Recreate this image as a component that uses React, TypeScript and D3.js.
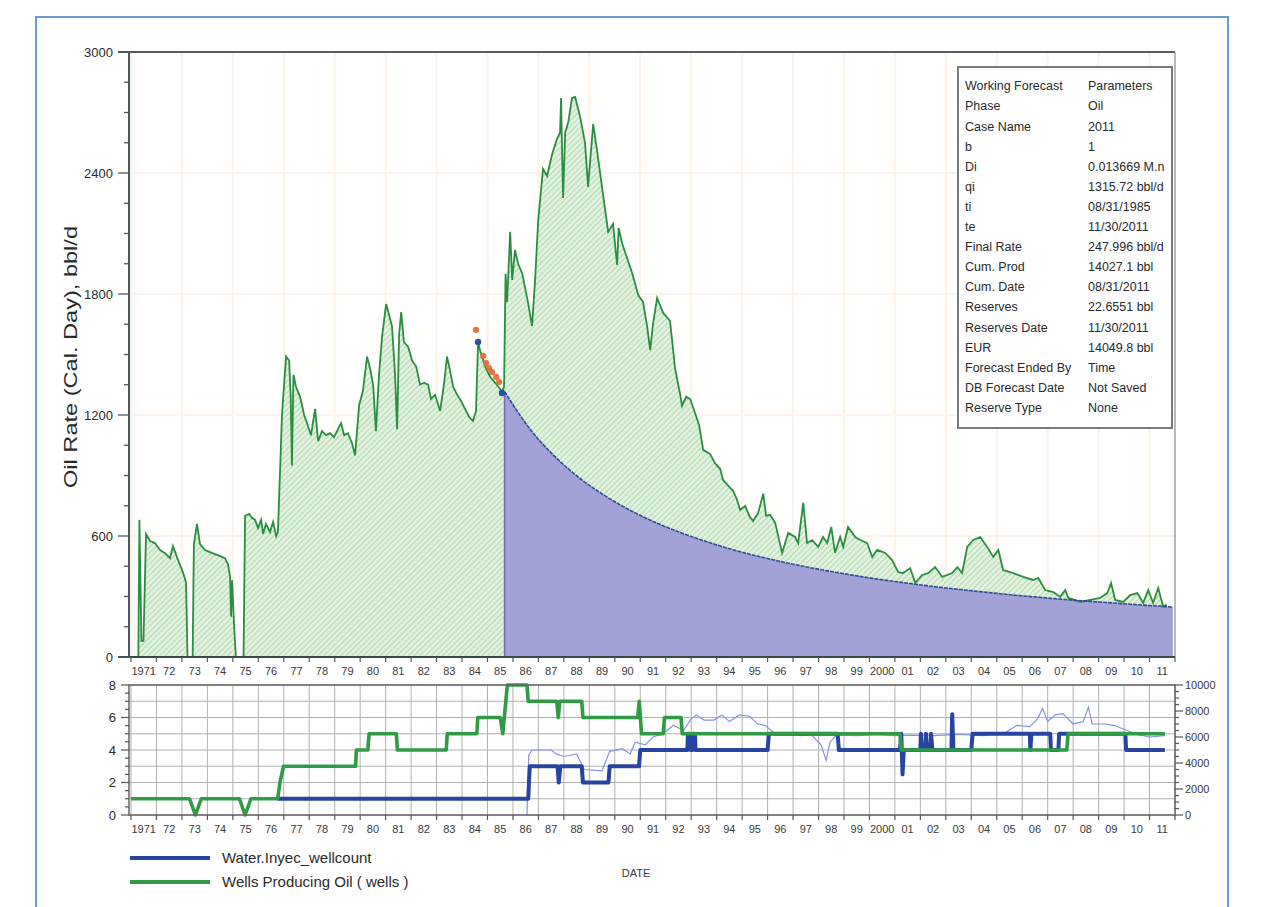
import React from 'react';
import * as d3 from 'd3';

const yearLabels = ['1971','72','73','74','75','76','77','78','79','80','81','82','83','84','85','86','87','88','89','90','91','92','93','94','95','96','97','98','99','2000','01','02','03','04','05','06','07','08','09','10','11'];

const oilYears = [1971.29,1971.33,1971.41,1971.49,1971.59,1971.75,1971.94,1972.14,1972.34,1972.53,1972.65,1972.85,1973.04,1973.16,1973.22,
1973.42,1973.47,1973.59,1973.71,1973.91,1974.10,1974.30,1974.50,1974.69,1974.81,1974.89,1974.93,1974.97,1975.05,1975.12,
1975.42,1975.48,1975.64,1975.75,1975.87,1975.99,1976.11,1976.19,1976.30,1976.46,1976.58,1976.70,1976.77,1976.93,1977.09,1977.21,1977.27,1977.32,1977.38,1977.48,1977.64,1977.80,1977.91,1978.07,1978.23,1978.35,1978.50,1978.66,1978.82,1978.97,1979.13,1979.25,1979.37,1979.52,1979.68,1979.80,1979.96,1980.11,1980.27,1980.39,1980.51,1980.62,1980.74,1980.86,1981.02,1981.13,1981.25,1981.37,1981.45,1981.53,1981.61,1981.72,1981.88,1982.04,1982.20,1982.35,1982.51,1982.67,1982.78,1982.94,1983.14,1983.30,1983.41,1983.53,1983.65,1983.81,1983.96,1984.12,1984.28,1984.43,1984.55,1984.63,1984.71,1984.91,1985.10,1985.30,1985.49,1985.57,1985.65,1985.71,1985.77,1985.89,1985.97,1986.08,1986.20,1986.36,1986.59,1986.75,1986.87,1986.99,1987.18,1987.34,1987.54,1987.73,1987.85,1987.89,1987.93,1987.97,1988.05,1988.17,1988.32,1988.44,1988.64,1988.83,1988.95,1989.15,1989.30,1989.54,1989.74,1989.93,1990.09,1990.15,1990.29,1990.48,1990.68,1990.92,1991.11,1991.27,1991.39,1991.50,1991.66,1991.90,1992.17,1992.37,1992.57,1992.64,1992.80,1992.96,1993.15,1993.31,1993.47,1993.74,1993.94,1994.14,1994.25,1994.45,1994.65,1994.80,1994.92,1995.12,1995.28,1995.43,1995.63,1995.83,1995.94,1996.10,1996.30,1996.57,1996.81,1997.08,1997.20,1997.40,1997.55,1997.75,1997.99,1998.18,1998.34,1998.50,1998.65,1998.85,1998.97,1999.16,1999.44,1999.64,1999.91,2000.11,2000.30,2000.62,2000.89,2001.13,2001.32,2001.60,2001.80,2002.07,2002.31,2002.58,2002.86,2003.25,2003.45,2003.64,2003.84,2004.07,2004.35,2004.62,2004.86,2005.06,2005.25,2005.65,2006.04,2006.43,2006.63,2006.90,2007.22,2007.49,2007.69,2007.81,2008.28,2008.67,2009.06,2009.34,2009.49,2009.65,2009.97,2010.24,2010.52,2010.75,2010.95,2011.14,2011.34,2011.54,2011.67];

const oilRates = [0,680,80,80,610,575,565,530,515,490,550,480,420,370,0,
0,560,660,560,530,520,510,500,490,460,400,200,380,150,0,
0,700,710,690,680,640,680,610,660,620,670,600,620,1200,1490,1470,1300,950,1400,1340,1290,1200,1160,1100,1230,1070,1120,1100,1110,1090,1130,1160,1100,1110,1060,1000,1250,1320,1490,1430,1350,1120,1400,1590,1750,1700,1640,1400,1130,1600,1710,1560,1540,1470,1440,1350,1360,1350,1280,1300,1220,1360,1490,1420,1340,1300,1270,1230,1190,1170,1220,1562,1520,1440,1390,1360,1330,1315,1340,1900,1760,2108,1870,2018,1950,1904,1760,1641,1870,2162,2420,2385,2494,2569,2600,2772,2500,2276,2600,2650,2772,2777,2678,2549,2331,2643,2514,2291,2108,2147,1944,2127,2050,1979,1904,1795,1760,1640,1522,1651,1780,1706,1666,1428,1300,1245,1290,1279,1210,1150,1027,1007,960,932,878,850,823,780,729,749,700,674,714,810,700,705,664,516,615,595,565,764,565,580,546,595,565,645,516,595,546,645,595,580,565,496,531,516,481,421,416,441,367,407,416,446,397,416,446,416,546,580,595,546,496,531,431,416,397,382,392,332,322,298,332,293,273,283,293,317,367,283,273,307,317,268,332,268,342,248,260];

const forecastYears = [1985.67,1986.67,1987.67,1988.67,1989.67,1990.67,1991.67,1992.67,1993.67,1994.67,1995.67,1996.67,1997.67,1998.67,1999.67,2000.67,2001.67,2002.67,2003.67,2004.67,2005.67,2006.67,2007.67,2008.67,2009.67,2010.67,2011.92];
const forecastRates = [1316,1130,991,882,795,723,663,613,569,531,498,469,443,420,399,380,363,347,333,320,307,296,285,276,267,258,248];

const fitYears = [1984.55,1984.83,1984.94,1985.06,1985.18,1985.34,1985.46];
const fitRates = [1622,1493,1458,1433,1413,1389,1364];
const fitEndYears = [1984.63,1985.57];
const fitEndRates = [1562,1309];

const wellsYears = [1971.0,1973.3,1973.53,1973.76,1975.26,1975.48,1975.71,1976.76,1976.85,1976.99,1979.82,1979.85,1980.3,1980.35,1981.42,1981.46,1983.38,1983.42,1984.58,1984.62,1985.5,1985.6,1985.72,1985.78,1986.55,1986.6,1987.72,1987.78,1987.84,1988.7,1988.75,1990.9,1990.96,1991.05,1991.9,1991.95,1992.6,1992.65,2001.2,2001.25,2007.75,2007.8,2011.6];
const wellsCount = [1,1,0,1,1,0,1,1,2,3,3,4,4,5,5,4,4,5,5,6,6,5,7,8,8,7,7,6,7,7,6,6,7,5,5,6,6,5,5,4,4,5,5];

const injYears = [1976.76,1986.6,1986.66,1987.75,1987.8,1987.86,1988.7,1988.75,1989.75,1989.8,1990.95,1991.0,1992.85,1992.87,1992.95,1992.97,1993.05,1993.07,1993.15,1993.17,1996.0,1996.05,1998.75,1998.8,2001.2,2001.25,2001.3,2001.35,2002.0,2002.02,2002.07,2002.2,2002.22,2002.27,2002.4,2002.42,2002.47,2003.22,2003.25,2003.3,2004.0,2004.05,2006.3,2006.32,2006.36,2007.1,2007.13,2007.42,2007.45,2010.05,2010.08,2011.6];
const injCount = [1,1,3,3,2,3,3,2,2,3,3,4,4,5,5,4,4,5,5,4,4,5,5,4,4,5,2.5,4,4,5,4,4,5,4,4,5,4,4,6.2,4,4,5,5,4,5,5,4,4,5,5,4,4];

const injRateYears = [1986.55,1986.62,1986.75,1987.5,1987.7,1988.0,1988.5,1988.8,1989.5,1989.8,1990.3,1990.6,1990.8,1991.2,1991.5,1991.9,1992.3,1992.7,1993.0,1993.2,1993.5,1993.9,1994.2,1994.5,1994.9,1995.3,1995.6,1995.9,1996.3,1996.8,1997.3,1997.7,1998.1,1998.3,1998.45,1998.7,1999.5,2000.3,2001.0,2001.6,2002.5,2003.5,2004.5,2005.3,2005.8,2006.3,2006.6,2006.8,2007.0,2007.3,2007.6,2008.0,2008.4,2008.6,2008.75,2009.2,2009.6,2010.0,2010.5,2011.0,2011.6];
const injRate = [0,4600,5000,5000,4700,4500,4700,3500,3400,4900,5100,4700,5600,5400,6000,6250,6900,6500,7400,7700,7300,7300,7700,7200,7700,7600,7000,6900,6250,6300,6100,6200,5400,4200,5600,6150,6100,6200,6100,6150,6100,6200,6100,6300,6900,6800,7400,8200,7200,7700,7800,7000,7200,8300,7000,7000,6900,6600,6200,6000,6100];

const infoLabels = ['Working Forecast','Phase','Case Name','b','Di','qi','ti','te','Final Rate','Cum. Prod','Cum. Date','Reserves','Reserves Date','EUR','Forecast Ended By','DB Forecast Date','Reserve Type'];
const infoValues = ['Parameters','Oil','2011','1','0.013669 M.n','1315.72 bbl/d','08/31/1985','11/30/2011','247.996 bbl/d','14027.1 bbl','08/31/2011','22.6551 bbl','11/30/2011','14049.8 bbl','Time','Not Saved','None'];

const mainTicks = [0, 600, 1200, 1800, 2400, 3000];
const subTicks = [0, 2, 4, 6, 8];
const rightTicks = [0, 2000, 4000, 6000, 8000, 10000];

const FONT = "'Liberation Sans Narrow', 'Liberation Sans', Arial, sans-serif";

export default function App() {
  const L = 129, R = 1175;
  const mT = 52, mB = 657;
  const sT = 685, sB = 815;
  const x = d3.scaleLinear().domain([1971, 2012]).range([131, R]);
  const yM = d3.scaleLinear().domain([0, 3000]).range([mB, mT]);
  const yS = d3.scaleLinear().domain([0, 8]).range([sB, sT]);
  const yR = d3.scaleLinear().domain([0, 10000]).range([sB, sT]);

  const oil = oilYears.map((t, i) => [t, oilRates[i]] as [number, number]);
  const fc = forecastYears.map((t, i) => [t, forecastRates[i]] as [number, number]);
  const wells = wellsYears.map((t, i) => [t, wellsCount[i]] as [number, number]);
  const inj = injYears.map((t, i) => [t, injCount[i]] as [number, number]);
  const injR = injRateYears.map((t, i) => [t, injRate[i]] as [number, number]);

  const oilArea = d3.area<[number, number]>().x(d => x(d[0])).y0(mB).y1(d => yM(d[1]));
  const oilLine = d3.line<[number, number]>().x(d => x(d[0])).y(d => yM(d[1]));
  const fcArea = d3.area<[number, number]>().x(d => x(d[0])).y0(mB).y1(d => yM(d[1])).curve(d3.curveMonotoneX);
  const fcLine = d3.line<[number, number]>().x(d => x(d[0])).y(d => yM(d[1])).curve(d3.curveMonotoneX);
  const subLine = d3.line<[number, number]>().x(d => x(d[0])).y(d => yS(d[1]));
  const rLine = d3.line<[number, number]>().x(d => x(d[0])).y(d => yR(d[1]));

  const years = d3.range(1971, 2013);
  const minorMain = d3.range(0, 3001, 150);
  const minorSub = d3.range(0, 8.01, 0.5);
  const minorRight = d3.range(0, 10001, 500);
  const gridSub = d3.range(0, 9, 1);

  return (
    <svg width={1264} height={907} style={{ position: 'absolute', left: 0, top: 0, background: '#fff' }} fontFamily={FONT}>
      <defs>
        <pattern id="hatch" patternUnits="userSpaceOnUse" width={4} height={4} patternTransform="rotate(45)">
          <rect width={4} height={4} fill="#e2f2df" />
          <line x1={0} y1={0} x2={0} y2={4} stroke="#9dd09d" strokeWidth={1.4} />
        </pattern>
      </defs>
      <rect x={36} y={17} width={1192} height={900} fill="none" stroke="#6a9ad8" strokeWidth={2} />

      {/* main plot background grid */}
      <rect x={L} y={mT} width={R - L} height={mB - mT} fill="#fffefc" />
      {years.filter((t, i) => i % 2 === 0).map(t => (
        <line key={'mg' + t} x1={x(t)} x2={x(t)} y1={mT} y2={mB} stroke="#fdf2e8" strokeWidth={2} />
      ))}
      {mainTicks.map(v => (
        <line key={'mh' + v} x1={L} x2={R} y1={yM(v)} y2={yM(v)} stroke="#fdf3ea" strokeWidth={2} />
      ))}

      <path d={oilArea(oil) || ''} fill="url(#hatch)" />
      <path d={fcArea(fc) || ''} fill="#a2a2d6" />
      <line x1={x(forecastYears[0])} x2={x(forecastYears[0])} y1={yM(forecastRates[0])} y2={mB} stroke="#6d6db8" strokeWidth={1.5} />
      <path d={oilLine(oil) || ''} fill="none" stroke="#2a8e40" strokeWidth={1.8} />
      <path d={fcLine(fc) || ''} fill="none" stroke="#2e4a94" strokeWidth={1.6} strokeDasharray="4 1" />
      {fitYears.map((t, i) => (
        <circle key={'f' + i} cx={x(t)} cy={yM(fitRates[i])} r={2.8} fill="#e8763c" stroke="#d9603a" strokeWidth={0.6} />
      ))}
      {fitEndYears.map((t, i) => (
        <circle key={'fe' + i} cx={x(t)} cy={yM(fitEndRates[i])} r={3.2} fill="#2d4f9e" />
      ))}

      {/* main frame */}
      <line x1={118} x2={R} y1={mT} y2={mT} stroke="#5a5a5a" strokeWidth={2} />
      <line x1={R} x2={R} y1={mT} y2={mB} stroke="#8a8a8a" strokeWidth={1.2} />
      <line x1={L} x2={L} y1={mT} y2={mB} stroke="#4a5a60" strokeWidth={2} />
      <line x1={118} x2={R} y1={mB} y2={mB} stroke="#3a4a45" strokeWidth={2} />
      {minorMain.map(v => (
        <line key={'mt' + v} x1={v % 600 === 0 ? 118 : 124} x2={L} y1={yM(v)} y2={yM(v)} stroke="#4a5a60" strokeWidth={1.3} />
      ))}
      {mainTicks.map(v => (
        <text key={'ml' + v} x={113} y={yM(v)} dy="0.35em" textAnchor="end" fontSize={13} fill="#2a2a2a">{v}</text>
      ))}
      {years.map(t => (
        <line key={'mxt' + t} x1={x(t)} x2={x(t)} y1={mB} y2={mB + 5} stroke="#4a5a60" strokeWidth={1.2} />
      ))}
      {yearLabels.map((lab, i) => (
        <text key={'mxl' + i} x={x(1971.5 + i)} y={mB + 14} dy="0.35em" textAnchor="middle" fontSize={11} fill="#3a3a3a">{lab}</text>
      ))}
      <text transform={`translate(77,357) rotate(-90)`} textAnchor="middle" fontSize={19} fill="#2a2a2a" textLength={262} lengthAdjust="spacingAndGlyphs" fontFamily="'Liberation Sans', Arial, sans-serif">Oil Rate (Cal. Day), bbl/d</text>

      {/* info box */}
      <rect x={958} y={67} width={214} height={361} fill="#fff" stroke="#7a7a7a" strokeWidth={2} />
      {infoLabels.map((lab, i) => (
        <g key={'ib' + i}>
          <text x={965} y={86 + i * 20.1} dy="0.35em" fontSize={12.5} fill="#2a2a2a">{lab}</text>
          <text x={1088} y={86 + i * 20.1} dy="0.35em" fontSize={12.5} fill="#2a2a2a">{infoValues[i]}</text>
        </g>
      ))}

      {/* sub panel */}
      <rect x={L} y={sT} width={R - L} height={sB - sT} fill="#fff" />
      {years.map(t => (
        <line key={'sg' + t} x1={x(t)} x2={x(t)} y1={sT} y2={sB} stroke="#b0b0b0" strokeWidth={1} />
      ))}
      {gridSub.map(v => (
        <line key={'sh' + v} x1={L} x2={R} y1={yS(v)} y2={yS(v)} stroke="#b0b0b0" strokeWidth={1} />
      ))}
      <path d={rLine(injR) || ''} fill="none" stroke="#8494e2" strokeWidth={1.2} />
      <path d={subLine(inj) || ''} fill="none" stroke="#2644a0" strokeWidth={4} strokeLinejoin="round" />
      <path d={subLine(wells) || ''} fill="none" stroke="#2f9c45" strokeWidth={3.6} strokeLinejoin="round" />
      <rect x={L} y={sT} width={R - L} height={sB - sT} fill="none" stroke="#666" strokeWidth={1.5} />
      {minorSub.map(v => (
        <line key={'st' + v} x1={v % 2 === 0 ? 121 : 125} x2={L} y1={yS(v)} y2={yS(v)} stroke="#555" strokeWidth={1.2} />
      ))}
      {subTicks.map(v => (
        <text key={'sl' + v} x={116} y={yS(v)} dy="0.35em" textAnchor="end" fontSize={13} fill="#2a2a2a">{v}</text>
      ))}
      {minorRight.map(v => (
        <line key={'rt' + v} x1={R} x2={v % 2000 === 0 ? R + 8 : R + 4} y1={yR(v)} y2={yR(v)} stroke="#555" strokeWidth={1.2} />
      ))}
      {rightTicks.map(v => (
        <text key={'rl' + v} x={R + 10} y={yR(v)} dy="0.35em" textAnchor="start" fontSize={11} fill="#3a3a3a">{v}</text>
      ))}
      {years.map(t => (
        <line key={'sxt' + t} x1={x(t)} x2={x(t)} y1={sB} y2={sB + 5} stroke="#555" strokeWidth={1.2} />
      ))}
      {yearLabels.map((lab, i) => (
        <text key={'sxl' + i} x={x(1971.5 + i)} y={sB + 14} dy="0.35em" textAnchor="middle" fontSize={11} fill="#3a3a3a">{lab}</text>
      ))}

      {/* legend */}
      <line x1={130} x2={210} y1={858} y2={858} stroke="#2644a0" strokeWidth={4} />
      <text x={222} y={858} dy="0.35em" fontSize={15} fill="#2a2a2a" fontFamily="'Liberation Sans', Arial, sans-serif">Water.Inyec_wellcount</text>
      <line x1={130} x2={210} y1={882} y2={882} stroke="#2f9c45" strokeWidth={4} />
      <text x={222} y={882} dy="0.35em" fontSize={15} fill="#2a2a2a" fontFamily="'Liberation Sans', Arial, sans-serif">Wells Producing Oil ( wells )</text>
      <text x={636} y={873} dy="0.35em" textAnchor="middle" fontSize={11} fill="#3a3a3a">DATE</text>
    </svg>
  );
}
